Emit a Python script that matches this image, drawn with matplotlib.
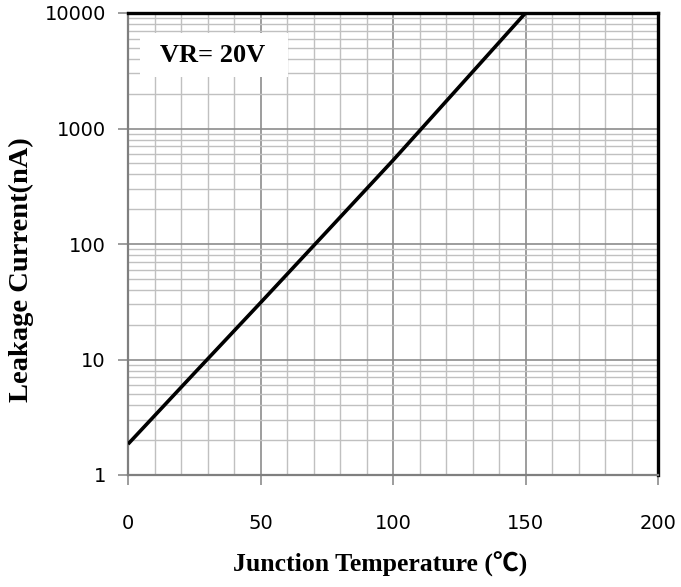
import matplotlib.pyplot as plt
from matplotlib.patches import Rectangle
from matplotlib.ticker import MultipleLocator, LogLocator, FixedFormatter, FixedLocator, NullFormatter

# Leakage current vs junction temperature
temp_c = [0, 25, 50, 75, 100, 125, 150]
leak_na = [1.85, 7.6, 31, 128, 530, 2300, 10000]

y_ticks = [1, 10, 100, 1000, 10000]
y_labels = ['1', '10', '100', '1000', '10000']
x_ticks = [0, 50, 100, 150, 200]

fig = plt.figure(figsize=(6.81, 5.87), dpi=100)
ax = fig.add_axes([128 / 681, 1 - 475 / 587, 530 / 681, 462 / 587])

ax.plot(temp_c, leak_na, color='black', linewidth=2.6, solid_capstyle='butt', zorder=3)

ax.set_yscale('log')
ax.set_xlim(0, 200)
ax.set_ylim(1, 10000)

# grid
ax.xaxis.set_major_locator(FixedLocator(x_ticks))
ax.xaxis.set_minor_locator(MultipleLocator(10))
ax.yaxis.set_major_locator(FixedLocator(y_ticks))
ax.yaxis.set_major_formatter(FixedFormatter(y_labels))
ax.yaxis.set_minor_locator(LogLocator(base=10, subs=range(2, 10)))
ax.yaxis.set_minor_formatter(NullFormatter())
ax.grid(which='major', color='#8c8c8c', linewidth=1.2)
ax.grid(which='minor', color='#c0c0c0', linewidth=1.0)
ax.set_axisbelow(True)

for s in ['top', 'right']:
    ax.spines[s].set_color('black')
    ax.spines[s].set_linewidth(2.4)
for s in ['left', 'bottom']:
    ax.spines[s].set_color('#7f7f7f')
    ax.spines[s].set_linewidth(1.6)

ax.tick_params(which='major', direction='out', length=7, width=1.2, color='#8c8c8c',
               labelsize=14)
ax.tick_params(which='minor', length=0)
ax.tick_params(axis='x', pad=21)
ax.tick_params(axis='y', pad=9)
for lbl in ax.get_xticklabels() + ax.get_yticklabels():
    lbl.set_family('DejaVu Sans')

serif = ['Liberation Serif', 'Noto Sans CJK SC', 'DejaVu Sans']
ax.set_xlabel('Junction Temperature (℃)', family=serif, fontweight='bold', fontsize=18.5)
ax.set_ylabel('Leakage Current(nA)', family=serif, fontweight='bold', fontsize=20.5)
ax.xaxis.set_label_coords(0.475, -0.165)
ax.yaxis.set_label_coords(-0.177, 0.444)

# white label box
ax.add_patch(Rectangle((0.023, 0.861), 0.279, 0.096, transform=ax.transAxes,
                       facecolor='white', edgecolor='none', zorder=2.5))
ax.text(0.159, 0.909, 'VR= 20V', transform=ax.transAxes, family=serif, fontweight='bold',
        fontsize=19, va='center', ha='center', zorder=4)

fig.savefig('out.png', dpi=100)
